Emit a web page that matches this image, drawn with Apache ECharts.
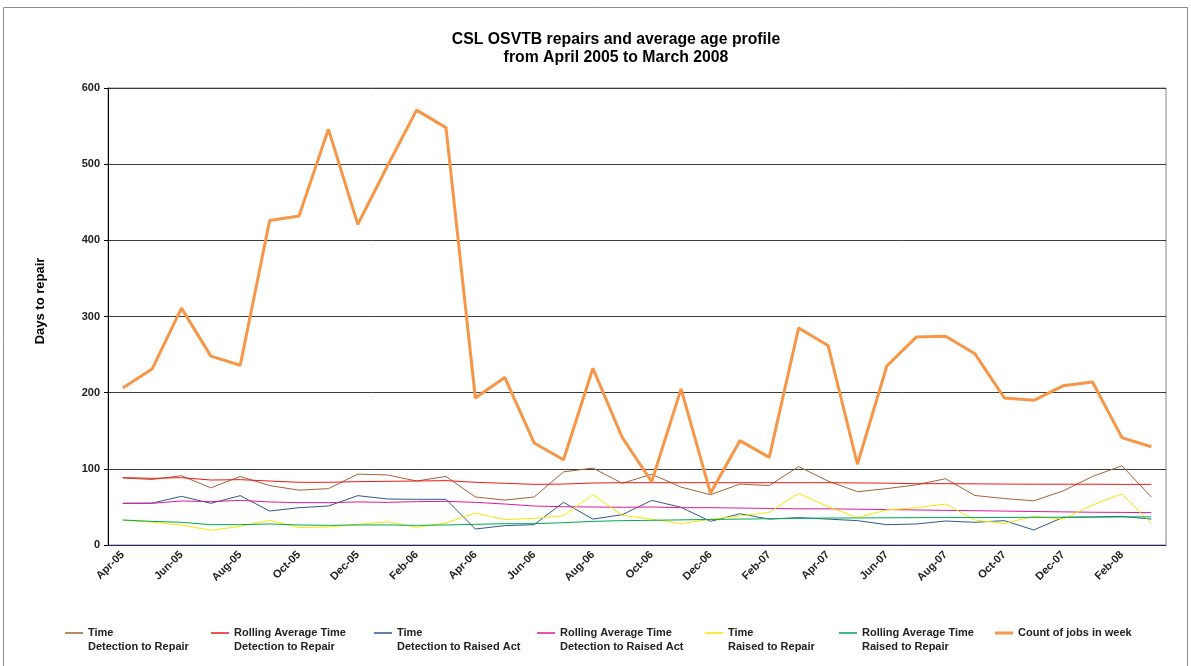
<!DOCTYPE html>
<html>
<head>
<meta charset="utf-8">
<script src="https://cdn.jsdelivr.net/npm/echarts@6/dist/echarts.min.js"></script>
<style>
  html, body { margin: 0; padding: 0; background: #fff; }
  #chart { width: 1191px; height: 666px; }
</style>
</head>
<body>
<div id="chart"></div>
<script>
// Months, April 2005 to March 2008
const months = ['Apr-05','May-05','Jun-05','Jul-05','Aug-05','Sep-05','Oct-05','Nov-05','Dec-05','Jan-06','Feb-06','Mar-06',
  'Apr-06','May-06','Jun-06','Jul-06','Aug-06','Sep-06','Oct-06','Nov-06','Dec-06','Jan-07','Feb-07','Mar-07',
  'Apr-07','May-07','Jun-07','Jul-07','Aug-07','Sep-07','Oct-07','Nov-07','Dec-07','Jan-08','Feb-08','Mar-08'];

// Days: detection to repair
const timeDetToRepair = [88,86,91,75,90,78,72,74,93,92,84,90,63,59,63,96,101,81,93,76,66,80,78,103,84,70,74,79,87,65,61,58,71,90,104,63];
const rollDetToRepair = [88.4,87.5,88.4,85.3,85.8,84,82.3,82.3,83.2,83.6,84,84.5,82.3,81,79.6,80,81.4,81.8,81.8,81.8,81.8,81.8,81.8,81.8,81.8,81.5,81.2,80.5,80.5,80.3,80,79.8,79.8,79.8,79.6,79.6];

// Days: detection to raised act
const timeDetToRaised = [54.7,55,63.9,54.7,64.8,44.6,49,51.2,64.8,60.4,60,60,21,25.4,26.7,56,34,39.8,58.6,49.5,31,41,34,35.9,34,32,26.7,27.6,31.5,29.8,32,19.7,36.3,36.8,37.6,34];
const rollDetToRaised = [54.7,54.7,57.8,56.9,58.6,56.5,55.6,55.6,56.5,56,56.9,57.3,56,53.8,51.2,50.3,49.9,49.5,49.9,49,49,48.5,48,47.5,47.5,47,46.5,46,45.5,45,44.5,44,43.5,43,42.8,42.5];

// Days: raised to repair
const timeRaisedToRepair = [32.8,29.8,26.3,19.3,24.5,32.4,22.8,23.6,27,30.6,23.2,28.9,42,33.3,35,38.5,66,38.9,34,28,33.7,38,42.9,67.8,50.3,36.3,46,49,53.8,32.8,28.4,37.6,34,52.5,67,28.4];
const rollRaisedToRepair = [32.8,31,29.8,26.7,26.7,27.6,26.3,25.8,26.3,26.3,25.8,26.3,27.1,28,28,29.3,31,32,32.4,33,33.5,34,34.5,35,35.4,35.5,35.7,35.9,36,36,36.2,36.3,36.5,36.6,36.8,37];

// Jobs counted per week
const countJobs = [206,231,311,248,236,426,432,546,421,497,571,548,193,220,134,112,232,141,83,205,68,137,115,285,262,106,235,273,274,251,193,190,209,214,141,129];

const FONT = 'Liberation Sans, Arial, sans-serif';

// Legend keys: a short bar level with the first text line of a two-line label
const THIN_KEY = 'path://M0,0L0.01,0M0,6.3L18,6.3L18,7.7L0,7.7ZM0,28L0.01,28';
const THICK_KEY = 'path://M0,0L0.01,0M0,5.5L18,5.5L18,8.5L0,8.5ZM0,28L0.01,28';

const seriesDefs = [
  { name: 'Time\nDetection to Repair', data: timeDetToRepair, color: '#a5603a', width: 1 },
  { name: 'Rolling Average Time\nDetection to Repair', data: rollDetToRepair, color: '#f01818', width: 1 },
  { name: 'Time\nDetection to Raised Act', data: timeDetToRaised, color: '#2e5a8c', width: 1 },
  { name: 'Rolling Average Time\nDetection to Raised Act', data: rollDetToRaised, color: '#e0189a', width: 1 },
  { name: 'Time\nRaised to Repair', data: timeRaisedToRepair, color: '#f7ea00', width: 1 },
  { name: 'Rolling Average Time\nRaised to Repair', data: rollRaisedToRepair, color: '#00aa50', width: 1 },
  { name: 'Count of jobs in week', data: countJobs, color: '#f79646', width: 3 }
];

// Left edge of each legend entry along the bottom row
const legendLeft = [65, 211, 374, 537, 705, 839, 995];

const chart = echarts.init(document.getElementById('chart'), null, { renderer: 'canvas' });
chart.setOption({
  animation: false,
  backgroundColor: '#fff',
  title: {
    text: 'CSL OSVTB repairs and average age profile\nfrom April 2005 to March 2008',
    left: 611, top: 26, textAlign: 'center',
    textStyle: { fontFamily: FONT, fontSize: 15.8, fontWeight: 'bold', color: '#000', lineHeight: 18 }
  },
  graphic: [
    {
      type: 'rect', shape: { x: 3.5, y: 7.5, width: 1184, height: 680 },
      style: { fill: 'none', stroke: '#8c8c8c', lineWidth: 1 }, silent: true, z: -1
    },
    {
      type: 'text', x: 40, y: 301, rotation: Math.PI / 2, silent: true,
      style: { text: 'Days to repair', fontFamily: FONT, fontSize: 13, fontWeight: 'bold', fill: '#000', align: 'center', verticalAlign: 'middle' }
    }
  ],
  legend: seriesDefs.map((s, i) => ({
    left: legendLeft[i], top: 626, itemWidth: 18, itemHeight: 28, padding: 0,
    itemStyle: { borderWidth: 0 },
    data: [{ name: s.name, icon: s.width > 1 ? THICK_KEY : THIN_KEY }],
    formatter: n => (n.indexOf('\n') >= 0 ? n : n + '\n '),
    textStyle: { fontFamily: FONT, fontSize: 11, fontWeight: 'bold', color: '#222', lineHeight: 14 }
  })),
  grid: { left: 108, right: 25, top: 88, bottom: 121, show: true, borderColor: '#8a8a8a', borderWidth: 1 },
  xAxis: {
    type: 'category', data: months, boundaryGap: true,
    axisLine: { lineStyle: { color: '#1f2470', width: 1 } },
    axisTick: { interval: 1, length: 5, lineStyle: { color: '#555' } },
    axisLabel: { interval: 1, rotate: 45, margin: 8, fontFamily: FONT, fontSize: 11, fontWeight: 'bold', color: '#222' }
  },
  yAxis: {
    type: 'value', min: 0, max: 600, interval: 100,
    axisLine: { show: true, lineStyle: { color: '#000', width: 1 } },
    axisTick: { show: true, length: 4, lineStyle: { color: '#000' } },
    axisLabel: { margin: 8, fontFamily: FONT, fontSize: 11, fontWeight: 'bold', color: '#222' },
    splitLine: { lineStyle: { color: '#3c3c3c', width: 1 } }
  },
  series: seriesDefs.map(s => ({
    name: s.name, type: 'line', data: s.data, symbol: 'none', silent: true,
    lineStyle: { color: s.color, width: s.width }, itemStyle: { color: s.color }
  }))
});
</script>
</body>
</html>
